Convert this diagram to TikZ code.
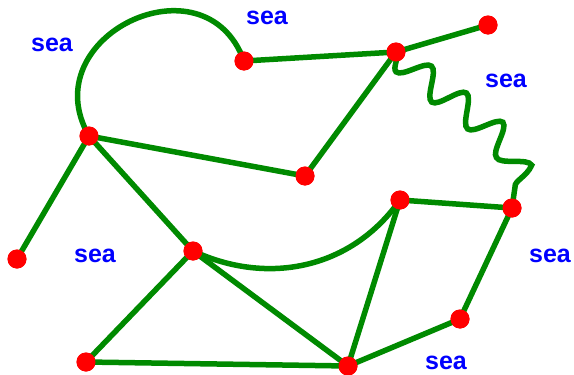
\documentclass[tikz,border=0pt]{standalone}
\usepackage{fontspec}
\setmainfont{Liberation Sans}
\usetikzlibrary{decorations.pathmorphing}
\definecolor{edgegreen}{RGB}{0,138,0}
\begin{document}
\begin{tikzpicture}[x=1pt,y=-1pt,
  dot/.style={circle,fill=red,draw=none,minimum size=19pt,inner sep=0pt},
  edge/.style={draw=edgegreen,line width=5.5pt},
  lbl/.style={text=blue,font=\fontsize{25}{25}\selectfont\bfseries,inner sep=0pt}]
\useasboundingbox (0,0) rectangle (574,375);
% vertices
\node[dot] (A) at (244,61) {};
\node[dot] (B) at (396,52) {};
\node[dot] (C) at (488,25) {};
\node[dot] (D) at (89,136) {};
\node[dot] (E) at (305,176) {};
\node[dot] (F) at (400,200) {};
\node[dot] (G) at (512,208) {};
\node[dot] (H) at (17,259) {};
\node[dot] (I) at (193,251) {};
\node[dot] (J) at (460,319) {};
\node[dot] (K) at (86,362) {};
\node[dot] (L) at (348,366) {};
% edges
\path[edge] (A.center) -- (B.center);
\path[edge] (B.center) -- (C.center);
\path[edge] (B.center) -- (E.center);
\path[edge] (D.center) -- (E.center);
\path[edge] (D.center) -- (H.center);
\path[edge] (D.center) -- (I.center);
\path[edge] (F.center) -- (G.center);
\path[edge] (F.center) -- (L.center);
\path[edge] (G.center) -- (J.center);
\path[edge] (J.center) -- (L.center);
\path[edge] (I.center) -- (K.center);
\path[edge] (I.center) -- (L.center);
\path[edge] (K.center) -- (L.center);
\path[edge] (D.center) to[out=120,in=110,looseness=1.7] (A.center);
\path[edge] (I.center) to[out=-25,in=-125] (F.center);
\path[edge,decorate,decoration={snake,segment length=45,amplitude=14,mirror}]
  (B.center) to[out=-45,in=80,looseness=1.1] (G.center);
% redraw vertices on top
\foreach \v in {A,B,C,D,E,F,G,H,I,J,K,L} \fill[red] (\v) circle (9.5pt);
% labels
\node[lbl] (s1) at (52,45) {sea};
\node[lbl] (s2) at (267,18) {sea};
\node[lbl] (s3) at (506,81) {sea};
\node[lbl] (s4) at (95,256) {sea};
\node[lbl] (s5) at (550,256) {sea};
\node[lbl] (s6) at (446,363) {sea};
\end{tikzpicture}
\end{document}
